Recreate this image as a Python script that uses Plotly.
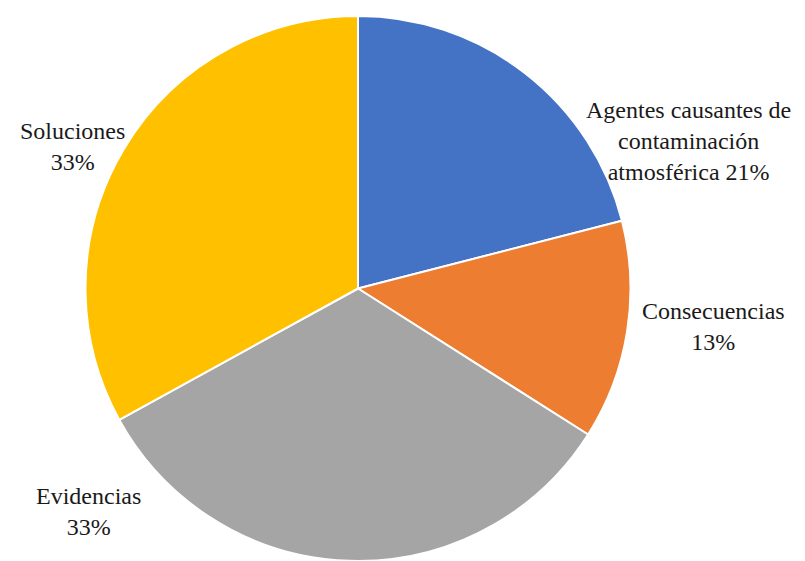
import plotly.graph_objects as go

categories = ["Agentes causantes de contaminación atmosférica", "Consecuencias", "Evidencias", "Soluciones"]
values = [21, 13, 33, 33]
label_text = ["Agentes causantes de<br>contaminación<br>atmosférica 21%", "Consecuencias<br>13%", "Evidencias<br>33%", "Soluciones<br>33%"]
colors = ["#4472C4", "#ED7D31", "#A5A5A5", "#FFC000"]

W, H = 805, 561
label_px = [(688, 141), (713, 326), (88, 512), (72, 146)]

fig = go.Figure(go.Pie(
    labels=categories, values=values, sort=False, direction="clockwise", rotation=0,
    marker=dict(colors=colors, line=dict(color="white", width=2)),
    textinfo="none", hoverinfo="label+percent", showlegend=False,
    domain=dict(x=[85 / W, 631 / W], y=[0, (H - 16) / H]),
))

for txt, (px, py) in zip(label_text, label_px):
    fig.add_annotation(text=txt, x=px / W, y=1 - py / H, xref="paper", yref="paper",
                       showarrow=False, align="center", xanchor="center", yanchor="middle",
                       font=dict(family="'Times New Roman', 'Liberation Serif', 'DejaVu Serif', serif",
                                 size=24, color="#1a1a1a"))

fig.update_layout(width=W, height=H, margin=dict(l=0, r=0, t=0, b=0),
                  font=dict(family="'Times New Roman', 'Liberation Serif', 'DejaVu Serif', serif"),
                  paper_bgcolor="white", plot_bgcolor="white")
fig.write_html("out.html")
